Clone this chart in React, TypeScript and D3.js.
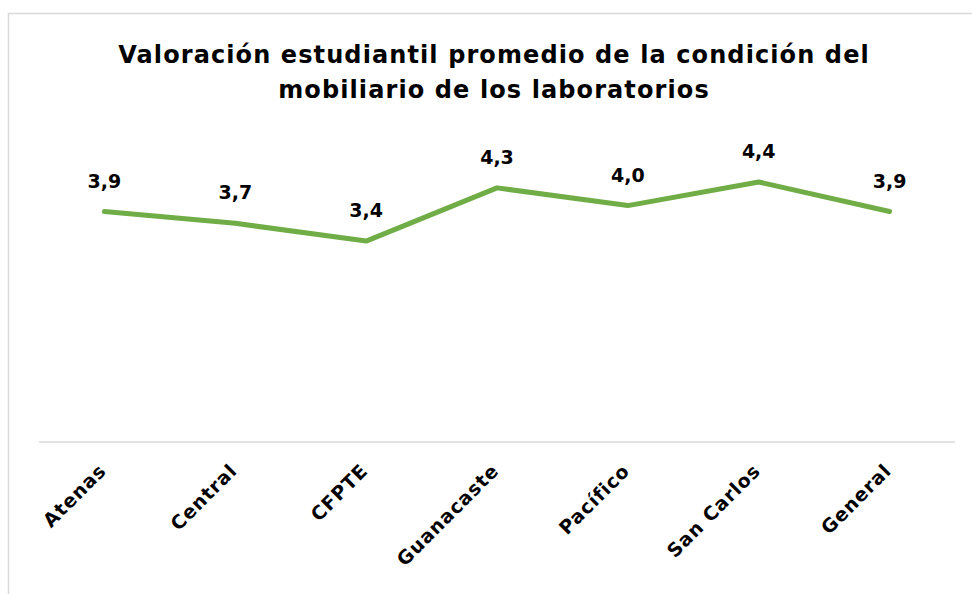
import React from "react";
import * as d3 from "d3";

const categories = ["Atenas", "Central", "CFPTE", "Guanacaste", "Pacífico", "San Carlos", "General"];
const values = [3.9, 3.7, 3.4, 4.3, 4.0, 4.4, 3.9];
const titleLines = [
  "Valoración estudiantil promedio de la condición del",
  "mobiliario de los laboratorios",
];

const W = 972;
const H = 594;
const FONT = "'Century Gothic', 'DejaVu Sans', sans-serif";

export default function App() {
  const x = d3.scaleBand<string>().domain(categories).range([39, 955]);
  const y = d3.scaleLinear().domain([0, 5]).range([442, 146.5]);
  const line = d3
    .line<number>()
    .x((_, i) => (x(categories[i]) as number) + x.bandwidth() / 2)
    .y((d) => y(d));
  const fmt = (v: number) => d3.format(".1f")(v).replace(".", ",");

  return (
    <svg
      width={W}
      height={H}
      style={{ position: "absolute", left: 0, top: 0, background: "#fff" }}
    >
      <rect x={8.5} y={13.5} width={1000} height={700} fill="#fff" stroke="#d9d9d9" strokeWidth={1.5} />
      {titleLines.map((t, i) => (
        <text
          key={i}
          x={494}
          y={63 + i * 35}
          textAnchor="middle"
          fontFamily={FONT}
          fontWeight="bold"
          fontSize={24}
          letterSpacing={1.1}
          fill="#000"
        >
          {t}
        </text>
      ))}
      <line x1={39} x2={955} y1={442} y2={442} stroke="#d9d9d9" strokeWidth={1.5} />
      <path d={line(values) || ""} fill="none" stroke="#70ad47" strokeWidth={5} strokeLinejoin="round" strokeLinecap="round" />
      {values.map((v, i) => {
        const cx = (x(categories[i]) as number) + x.bandwidth() / 2;
        return (
          <text
            key={i}
            x={cx}
            y={y(v) - 24}
            textAnchor="middle"
            fontFamily={FONT}
            fontWeight="bold"
            fontSize={19}
            fill="#000"
          >
            {fmt(v)}
          </text>
        );
      })}
      {categories.map((c, i) => {
        const cx = (x(c) as number) + x.bandwidth() / 2 + 3;
        const cy = 472;
        return (
          <text
            key={c}
            x={cx}
            y={cy}
            textAnchor="end"
            transform={`rotate(-45, ${cx}, ${cy})`}
            fontFamily={FONT}
            fontWeight="bold"
            fontSize={19}
            letterSpacing={0.9}
            fill="#000"
          >
            {c}
          </text>
        );
      })}
    </svg>
  );
}
